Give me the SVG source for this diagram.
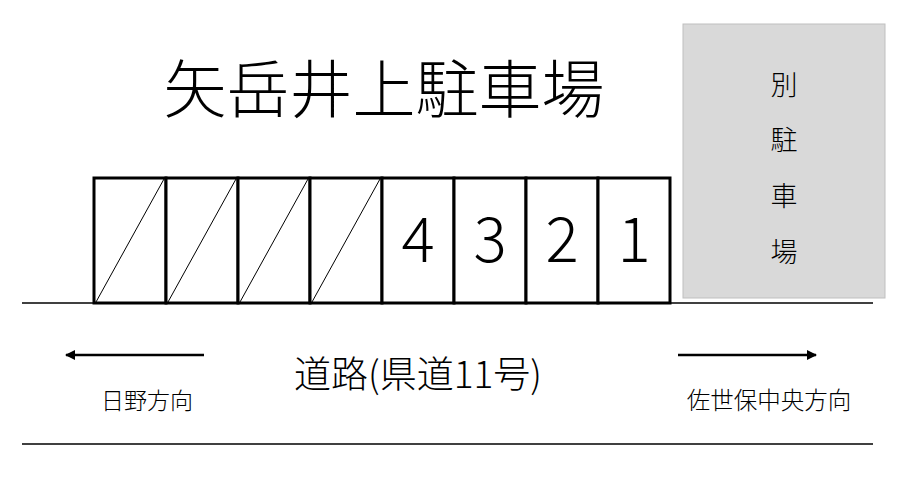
<svg xmlns="http://www.w3.org/2000/svg" width="918" height="480" viewBox="0 0 918 480">
<defs>
<style>
.t{font-family:"Noto Sans CJK JP","Noto Sans",sans-serif;fill:#000;text-anchor:middle}
.stall{fill:#fff;stroke:#000;stroke-width:3}
.diag{stroke:#000;stroke-width:1}
.ln{stroke:#000;stroke-width:1.3}
.arr{stroke:#000;stroke-width:2.5;fill:none}
</style>
<marker id="ah" viewBox="0 0 10 10" refX="9" refY="5" markerWidth="4" markerHeight="4" orient="auto-start-reverse">
<path d="M0,0 L10,5 L0,10 z" fill="#000"/>
</marker>
</defs>
<rect width="918" height="480" fill="#fff"/>
<g id="title"><text class="t" x="384" y="112" font-size="63" font-weight="300">矢岳井上駐車場</text></g>
<g id="other-lot">
<rect x="683" y="24" width="202" height="274" fill="#d9d9d9" stroke="#bfbfbf" stroke-width="1"/>
<text class="t" x="784" y="95" font-size="27" font-weight="300">別</text>
<text class="t" x="784" y="150" font-size="27" font-weight="300">駐</text>
<text class="t" x="784" y="206" font-size="27" font-weight="300">車</text>
<text class="t" x="784" y="262" font-size="27" font-weight="300">場</text>
</g>
<g id="road-lines">
<line class="ln" x1="22" y1="303" x2="873" y2="303"/>
<line class="ln" x1="22" y1="444" x2="873" y2="444"/>
</g>
<g id="stalls">
<g id="stall-x1"><rect class="stall" x="94" y="178" width="72" height="125"/><line class="diag" x1="96" y1="302" x2="164" y2="179"/></g>
<g id="stall-x2"><rect class="stall" x="166" y="178" width="72" height="125"/><line class="diag" x1="168" y1="302" x2="236" y2="179"/></g>
<g id="stall-x3"><rect class="stall" x="238" y="178" width="72" height="125"/><line class="diag" x1="240" y1="302" x2="308" y2="179"/></g>
<g id="stall-x4"><rect class="stall" x="310" y="178" width="72" height="125"/><line class="diag" x1="312" y1="302" x2="380" y2="179"/></g>
<g id="stall-4"><rect class="stall" x="382" y="178" width="72" height="125"/><text class="t" x="418" y="262" font-size="62" font-weight="300">4</text></g>
<g id="stall-3"><rect class="stall" x="454" y="178" width="72" height="125"/><text class="t" x="490" y="262" font-size="62" font-weight="300">3</text></g>
<g id="stall-2"><rect class="stall" x="526" y="178" width="72" height="125"/><text class="t" x="562" y="262" font-size="62" font-weight="300">2</text></g>
<g id="stall-1"><rect class="stall" x="598" y="178" width="72" height="125"/><text class="t" x="634" y="262" font-size="62" font-weight="300">1</text></g>
</g>
<g id="connectors">
<line class="arr" x1="204" y1="355" x2="66" y2="355" marker-end="url(#ah)"/>
<line class="arr" x1="678" y1="355" x2="816" y2="355" marker-end="url(#ah)"/>
</g>
<g id="road-label"><text class="t" x="418" y="388" font-size="37" font-weight="300">道路(県道11号)</text></g>
<g id="left-dir"><text class="t" x="147" y="409" font-size="23" font-weight="300">日野方向</text></g>
<g id="right-dir"><text class="t" x="769" y="409" font-size="23.5" font-weight="300">佐世保中央方向</text></g>
</svg>
